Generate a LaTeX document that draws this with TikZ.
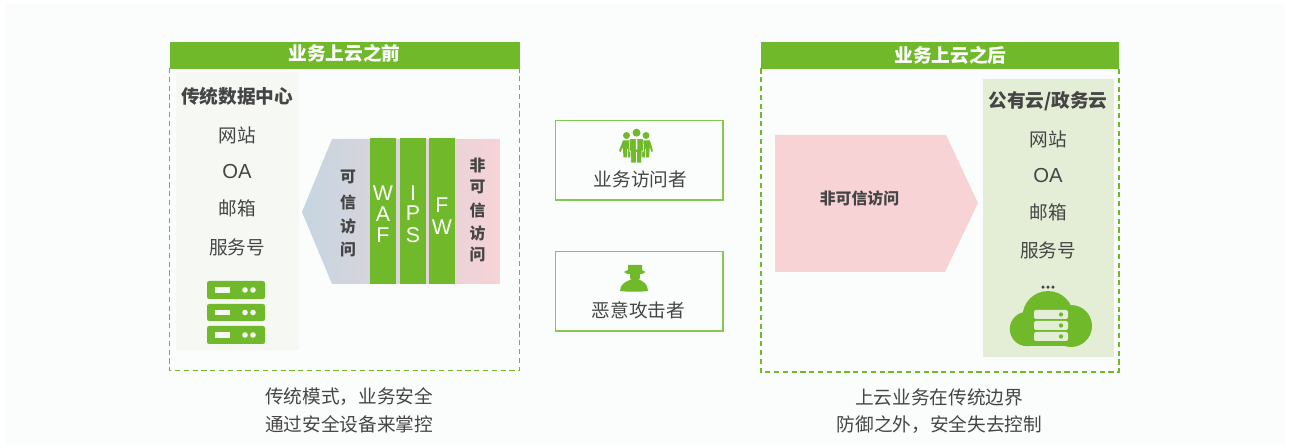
\documentclass[tikz,border=0pt]{standalone}
\usepackage{fontspec}
\setmainfont{Liberation Sans}
\newfontfamily\cjk{Noto Sans CJK SC}
\definecolor{pagebg}{HTML}{FBFDFC}
\definecolor{brandgreen}{HTML}{6FB92B}
\definecolor{dashgreen}{HTML}{6FB92B}
\definecolor{boxgreen}{HTML}{86C950}
\definecolor{txt}{HTML}{454545}
\definecolor{panelgray}{HTML}{F6F8F4}
\definecolor{panelgreen}{HTML}{E4EED6}
\definecolor{pinkarrow}{HTML}{F7D3D6}
\definecolor{gradL}{HTML}{C6D5E0}
\definecolor{gradR}{HTML}{F6D3D6}
\tikzset{
  body/.style={font=\cjk\fontsize{14pt}{15pt}\selectfont, text=txt, inner sep=0pt},
  bodybold/.style={font=\cjk\bfseries\fontsize{14pt}{15pt}\selectfont, text=txt, inner sep=0pt},
  smallbold/.style={font=\cjk\bfseries\fontsize{11.9pt}{12pt}\selectfont, text=txt, inner sep=0pt},
  latinbody/.style={font=\fontsize{15.2pt}{16pt}\selectfont, text=txt, inner sep=0pt},
  barletter/.style={font=\fontsize{16pt}{17pt}\selectfont, text=white, inner sep=0pt},
  headtext/.style={font=\cjk\bfseries\fontsize{14pt}{15pt}\selectfont, text=white, inner sep=0pt},
  dashbox/.style={draw=dashgreen, line width=1.3pt, dash pattern=on 3.9pt off 2.7pt},
  actorbox/.style={draw=boxgreen, line width=1.4pt, fill=pagebg},
  bar/.style={fill=brandgreen},
  gapline/.style={draw=pagebg, line width=0.4pt},
}
\begin{document}
\begin{tikzpicture}[x=0.75pt,y=-0.75pt]
\useasboundingbox (0,0) rectangle (1289,448);
\fill[white] (0,0) rectangle (1289,448);
\fill[pagebg] (6,4) rectangle (1285,445);

% ---------- left group
\draw[dashbox] (169.5,68) rectangle (519.5,370.5);
\fill[brandgreen] (170,42) rectangle (520,69);
\node[headtext] (hdrL) at (344.5,53.5) {业务上云之前};
\fill[panelgray] (176,72) rectangle (299,350);
\node[bodybold] (dcT) at (237,96) {传统数据中心};
\node[body] (dc1) at (237,135) {网站};
\node[latinbody] (dc2) at (237,172) {OA};
\node[body] (dc3) at (237,208.5) {邮箱};
\node[body] (dc4) at (237,247) {服务号};
% server icon
\foreach \ya/\yb in {281/299,304/321,326/344}{
  \fill[brandgreen,rounded corners=1.6pt] (207,\ya) rectangle (265,\yb);
  \pgfmathsetmacro{\ym}{(\ya+\yb)/2}
  \fill[panelgray] (215,\ym-2.8) rectangle (230,\ym+2.8);
  \fill[panelgray] (245,\ym) circle[radius=2.1pt];
  \fill[panelgray] (253,\ym) circle[radius=2.1pt];
}
% gradient arrow
\shade[left color=gradL, right color=gradR] (302,212) -- (332,139) -- (500,139) -- (500,284) -- (332,284) -- cycle;
\fill[bar] (370,138) rectangle (396,284);
\fill[bar] (400,138) rectangle (426,284);
\fill[bar] (429,138) rectangle (455,284);
\foreach \t/\y/\n in {可/177/a,信/202/b,访/226/c,问/249/d}
  \node[smallbold] (tr\n) at (348,\y) {\t};
\foreach \t/\y/\n in {W/193/a,A/214/b,F/235/c}
  \node[barletter] (waf\n) at (383,\y) {\t};
\foreach \t/\y/\n in {I/193/a,P/213/b,S/235/c}
  \node[barletter] (ips\n) at (413,\y) {\t};
\foreach \t/\y/\n in {F/205/a,W/227/b}
  \node[barletter] (fw\n) at (442,\y) {\t};
\foreach \t/\y/\n in {非/165/a,可/187/b,信/210/c,访/233/d,问/254/e}
  \node[smallbold] (un\n) at (477.5,\y) {\t};
\node[body] (capL1) at (349,396.5) {传统模式，业务安全};
\node[body] (capL2) at (349,424.5) {通过安全设备来掌控};

% ---------- middle
\draw[actorbox] (555.5,120.5) rectangle (723,200);
\draw[actorbox] (555.5,251.5) rectangle (723,331);
\node[body] (usr) at (640.5,179) {业务访问者};
\node[body] (atk) at (638.5,310) {恶意攻击者};
% people icon
\fill[brandgreen] (626.5,135.5) circle[radius=2.6pt];
\fill[brandgreen] (646,135.5) circle[radius=2.6pt];
\fill[brandgreen] (623,140.5) -- (631,140.5) -- (633,157.5) -- (623.5,157.5) -- (622.8,147) -- (620.5,152) -- (619,151) -- cycle;
\fill[brandgreen] (641,140.5) -- (650,140.5) -- (653,151) -- (651.5,152) -- (649.8,147) -- (649,157.5) -- (640,157.5) -- cycle;
\fill[brandgreen] (636.5,132.7) circle[radius=3pt];
\draw[gapline,fill=brandgreen] (630,138.5) -- (643,138.5) -- (643.5,151) -- (642,151) -- (641.5,163) -- (631,163) -- (630.5,151) -- (629,151) -- cycle;
\fill[white] (636,138.5) -- (637.2,138.5) -- (637.4,148) -- (636.6,150) -- (635.8,148) -- cycle;
\draw[gapline] (627.6,149) -- (627.6,157.5);
\draw[gapline] (645.2,149) -- (645.2,157.5);
\draw[gapline] (636.5,152) -- (636.5,163);
% attacker icon
\fill[brandgreen] (628,265) -- (642,265) -- (642,270) -- (645.5,272) -- (642,274) -- (640,274) -- (640,278) -- (637.5,281) -- (632.5,281) -- (630,278) -- (630,274) -- (627.5,274) -- (624,272) -- (628,270) -- cycle;
\fill[brandgreen] (620,291) .. controls (620,284) and (626,281.5) .. (631,279.5) -- (639,279.5) .. controls (643,281.5) and (648,284) .. (648,291) .. controls (640,292) and (628,292) .. (620,291) -- cycle;

% ---------- right group
\draw[dashbox] (760.7,68.5) rectangle (1118.7,372);
\fill[brandgreen] (761,42) rectangle (1119,69);
\node[headtext] (hdrR) at (950.5,55.5) {业务上云之后};
\fill[pinkarrow] (775,135) -- (946,135) -- (978,203) -- (945,272) -- (775,272) -- cycle;
\node[smallbold] (unR) at (859.5,198) {非可信访问};
\fill[panelgreen] (983,79) rectangle (1114,357);
\node[bodybold] (ccT) at (1048,101) {公有云/政务云};
\node[body] (cc1) at (1048,139) {网站};
\node[latinbody] (cc2) at (1048,176) {OA};
\node[body] (cc3) at (1048,212.5) {邮箱};
\node[body] (cc4) at (1048,250.5) {服务号};
\foreach \xx in {1043,1048,1053}
  \fill[txt] (\xx,287.2) circle[radius=1.3pt];
% cloud icon
\fill[brandgreen] (1048,316.5) circle[radius=19.1pt];
\fill[brandgreen] (1027,329) circle[radius=12.9pt];
\fill[brandgreen] (1071,326) circle[radius=15.75pt];
\fill[brandgreen] (1027,325) rectangle (1071,346.2);
\foreach \ya in {310,321,332}{
  \fill[panelgreen,rounded corners=1.5pt] (1034,\ya) rectangle (1068,\ya+9);
  \fill[brandgreen] (1061,\ya+4.5) circle[radius=1.6pt];
}
\node[body] (capR1) at (939,397) {上云业务在传统边界};
\node[body] (capR2) at (939.5,425) {防御之外，安全失去控制};
\end{tikzpicture}
\end{document}
